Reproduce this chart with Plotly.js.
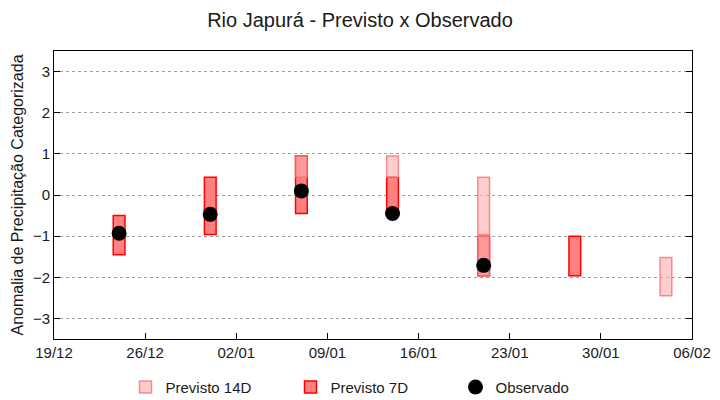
<!DOCTYPE html>
<html>
<head>
<meta charset="utf-8">
<script src="https://cdn.plot.ly/plotly-3.0.1.min.js"></script>
<style>html,body{margin:0;padding:0;background:#fff}#chart{width:720px;height:400px}</style>
</head>
<body>
<div id="chart"></div>
<script>
// Previsto 14D (ranges)
const d14Dates = ['2024-01-07','2024-01-14','2024-01-21','2024-01-21','2024-02-04'];
const d14Low   = [0.43, 0.43, -0.96, -1.96, -2.45];
const d14High  = [0.95, 0.95, 0.43, -1.00, -1.52];
// Previsto 7D (ranges)
const d7Dates = ['2023-12-24','2023-12-31','2024-01-07','2024-01-14','2024-01-21','2024-01-28'];
const d7Low   = [-1.45, -0.96, -0.45, -0.42, -1.96, -1.96];
const d7High  = [-0.50, 0.43, 0.95, 0.43, -1.00, -1.00];
// Observado
const obsDates = ['2023-12-24','2023-12-31','2024-01-07','2024-01-14','2024-01-21'];
const obsVals  = [-0.93, -0.47, 0.10, -0.45, -1.71];
// Ticks
const xTickVals = ['2023-12-19','2023-12-26','2024-01-02','2024-01-09','2024-01-16','2024-01-23','2024-01-30','2024-02-06'];
const xTickText = ['19/12','26/12','02/01','09/01','16/01','23/01','30/01','06/02'];
const yTickVals = [-3,-2,-1,0,1,2,3];

const DAY = 86400000;
const bw = 0.9 * DAY;

const t7 = {
  type: 'bar', name: 'Previsto 7D', legendrank: 2,
  x: d7Dates, base: d7Low, y: d7High.map((h,i)=>h-d7Low[i]),
  width: d7Dates.map(()=>bw),
  marker: {color: '#ff8080', line: {color: '#ff0000', width: 1.5}},
  hoverinfo: 'skip'
};
const t14 = {
  type: 'bar', name: 'Previsto 14D', legendrank: 1,
  x: d14Dates, base: d14Low, y: d14High.map((h,i)=>h-d14Low[i]),
  width: d14Dates.map(()=>bw),
  marker: {color: 'rgba(255,171,171,0.6)', line: {color: 'rgba(240,110,110,0.75)', width: 1.5}},
  hoverinfo: 'skip'
};
const tObs = {
  type: 'scatter', mode: 'markers', name: 'Observado', legendrank: 3,
  x: obsDates, y: obsVals,
  marker: {color: '#000000', size: 15, symbol: 'circle'},
  hoverinfo: 'skip'
};

const font = {family: 'Liberation Sans, Arial, sans-serif', color: '#1a1a1a', size: 15};

const layout = {
  width: 720, height: 400,
  paper_bgcolor: '#fff', plot_bgcolor: '#fff',
  font: font,
  margin: {l: 54, r: 28, t: 51, b: 61, autoexpand: false},
  title: {text: 'Rio Japurá - Previsto x Observado', font: {family: font.family, size: 20, color: '#1a1a1a'}, x: 0.5, xanchor: 'center', y: 0.95, yanchor: 'middle'},
  barmode: 'overlay',
  showlegend: true,
  legend: {orientation: 'h', x: 0.5, xanchor: 'center', y: -0.11, yanchor: 'top', font: {size: 15}, entrywidth: 120, entrywidthmode: 'pixels', itemwidth: 30},
  xaxis: {
    type: 'date', range: ['2023-12-19', '2024-02-06'],
    tickvals: xTickVals, ticktext: xTickText,
    showgrid: false, zeroline: false,
    showline: true, linecolor: '#000', linewidth: 1, mirror: true,
    ticks: 'inside', ticklen: 6, tickcolor: '#000',
    tickfont: {size: 15}, automargin: false
  },
  yaxis: {
    range: [-3.5, 3.5],
    tickvals: yTickVals,
    showgrid: true, gridcolor: '#a0a0a0', griddash: 'dot', gridwidth: 1,
    zeroline: false,
    showline: true, linecolor: '#000', linewidth: 1, mirror: 'ticks',
    ticks: 'inside', ticklen: 6, tickcolor: '#000',
    tickfont: {size: 15}, automargin: false,
    title: {text: 'Anomalia de Precipitação Categorizada', font: {size: 16}, standoff: 5}
  }
};

Plotly.newPlot('chart', [t7, t14, tObs], layout, {staticPlot: true});
</script>
</body>
</html>
